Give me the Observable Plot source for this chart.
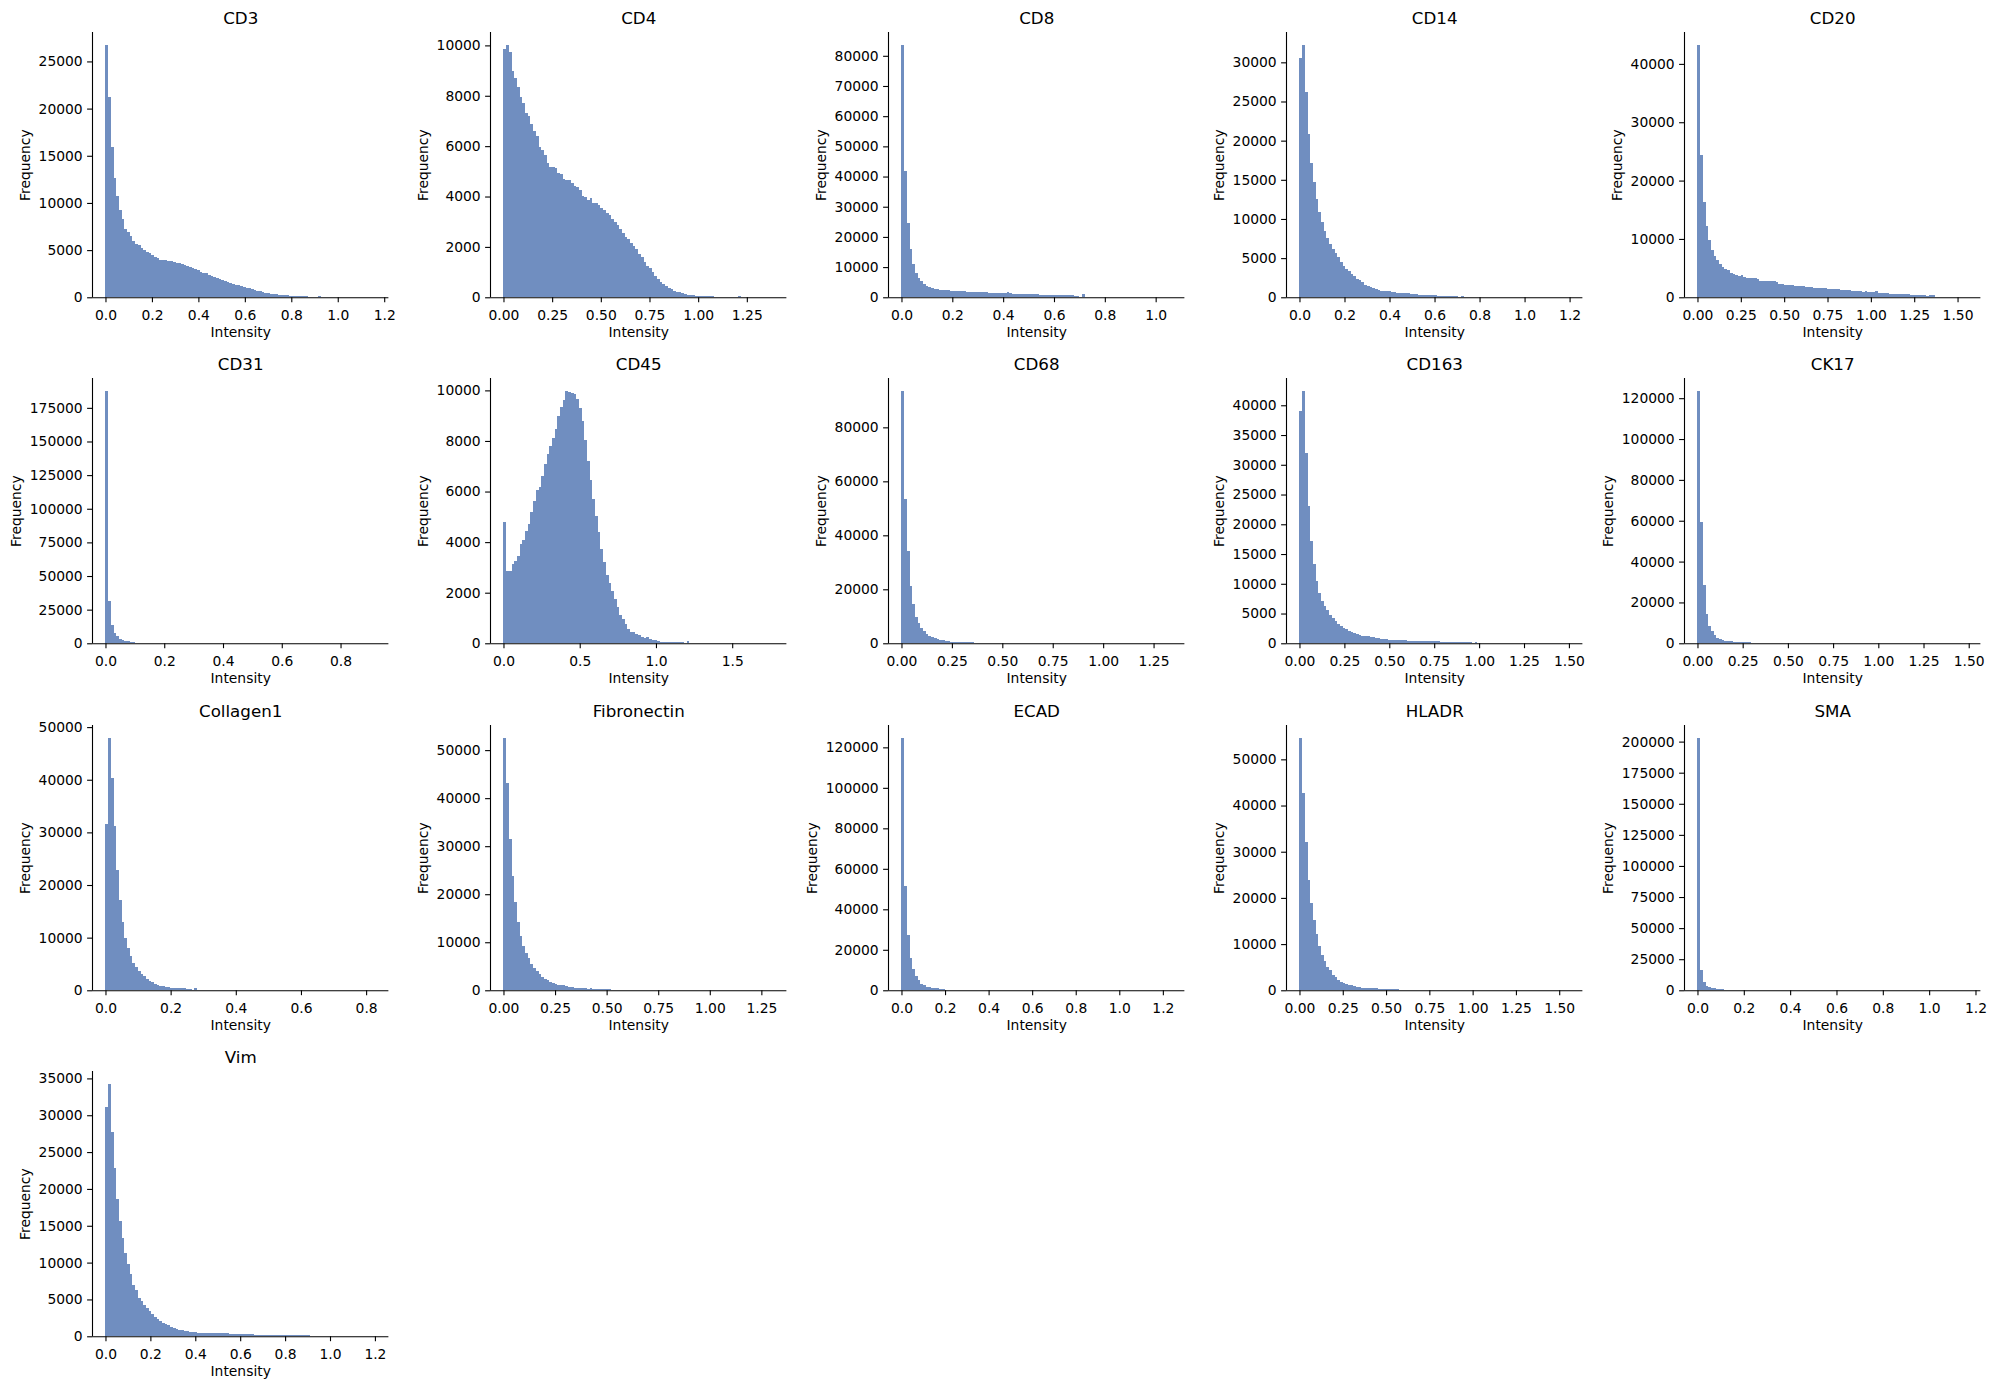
<!DOCTYPE html>
<html>
<head>
<meta charset="utf-8">
<script src="https://cdn.jsdelivr.net/npm/d3@7"></script>
<script src="https://cdn.jsdelivr.net/npm/@observablehq/plot@0.6"></script>
<style>
  html, body { margin: 0; padding: 0; background: #ffffff; }
  #grid { position: relative; width: 1995px; height: 1389px; font-family: "DejaVu Sans", sans-serif; }
  .panel { position: absolute; }
  .panel svg { overflow: visible; }
</style>
</head>
<body>
<div id="grid"></div>
<script>
// Marker names, in panel order (5 per row)
const markers = ["CD3", "CD4", "CD8", "CD14", "CD20", "CD31", "CD45", "CD68", "CD163", "CK17",
                 "Collagen1", "Fibronectin", "ECAD", "HLADR", "SMA", "Vim"];

// Upper edge of the intensity range per marker (bins run from 0 to this value)
const upperEdges = [1.16, 1.384, 1.06, 1.197, 1.554, 0.917, 1.767, 1.336, 1.5, 1.49,
                    0.827, 1.306, 1.237, 1.556, 1.163, 1.2];

// Cell counts per intensity bin (100 equal-width bins per marker)
const cd3Counts = [
  26780,21200,15900,12600,10700,9300,8300,7250,6900,6450,
  5950,5650,5500,5200,5000,4800,4650,4450,4300,4200,
  4000,3950,3900,3850,3800,3700,3650,3600,3500,3400,
  3300,3200,3100,3000,2850,2650,2600,2550,2400,2300,
  2200,2050,1950,1800,1700,1650,1550,1450,1350,1300,
  1200,1100,1000,950,850,780,700,620,560,500,
  440,400,350,310,280,250,220,200,170,150,
  140,120,110,100,90,80,70,60,60,180,
  40,30,25,20,15,10,10,8,6,5,
  5,4,3,3,2,2,2,1,1,1];
const cd4Counts = [
  9850,10030,9750,9000,8700,8360,7970,7700,7330,7200,
  6880,6620,6400,5980,5830,5630,5340,5190,5190,5140,
  4950,4900,4680,4640,4640,4550,4430,4370,4270,4040,
  3990,3870,3950,3730,3730,3660,3550,3450,3350,3250,
  3100,3000,2850,2700,2550,2400,2300,2150,2050,1900,
  1700,1600,1400,1250,1150,1000,850,720,620,520,
  450,380,320,260,220,190,160,130,110,95,
  80,65,55,70,45,40,36,32,28,25,
  22,19,16,14,12,4,3,70,2,1,
  1,1,0,0,0,0,0,0,0,1];
const cd8Counts = [
  83700,42000,24600,16000,11100,8100,6500,5400,4450,3900,
  3500,3200,2900,2650,2500,2400,2350,2250,2200,2100,
  2050,2000,2000,1950,1900,1850,1800,1800,1750,1700,
  1650,1600,1550,1550,1500,1500,1450,1450,1400,1800,
  1300,1250,1250,1200,1200,1150,1150,1100,1000,950,
  950,900,900,850,850,800,800,750,700,700,
  650,650,600,600,550,500,120,1000,150,120,
  100,80,60,50,40,30,25,20,15,12,
  10,8,6,5,4,3,3,2,2,1,
  1,1,1,1,1,0,0,0,0,1];
const cd14Counts = [
  30560,32260,26260,20870,17170,14660,12500,10840,9560,8410,
  7600,6800,6200,5600,5100,4550,4040,3650,3300,3000,
  2760,2380,2170,1910,1600,1490,1360,1200,1060,930,
  850,800,780,760,680,620,600,580,560,500,
  500,480,460,360,350,340,330,320,310,300,
  290,210,200,200,190,180,180,170,160,20,
  150,20,15,12,10,8,6,5,4,3,
  3,2,2,2,1,1,1,1,1,1,
  1,1,0,0,0,0,0,0,0,0,
  0,0,0,0,0,0,0,0,0,1];
const cd20Counts = [
  43300,24400,16400,12150,9760,8050,7020,6330,5700,5200,
  4900,4600,4200,4050,3770,3700,3770,3540,3300,3250,
  3250,3250,3200,2850,2800,2800,2780,2750,2750,2700,
  2250,2200,2150,2100,2100,2050,2000,2000,1980,1850,
  1800,1780,1750,1650,1620,1600,1600,1580,1450,1420,
  1400,1380,1350,1250,1220,1200,1180,1150,1050,1020,
  1000,980,1100,950,850,820,1000,800,680,660,
  650,640,620,600,520,510,500,490,480,380,
  370,360,350,340,330,200,400,400,60,50,
  40,35,30,25,20,15,10,8,5,3];
const cd31Counts = [
  187800,31200,13400,7500,5300,3100,2200,1500,1400,1300,
  1200,200,150,120,100,80,70,60,50,40,
  30,25,20,18,15,12,10,9,8,7,
  6,6,5,5,4,4,4,3,3,3,
  3,3,2,2,2,2,2,2,1,1,
  1,1,1,1,1,1,1,1,1,1,
  1,1,1,1,1,1,1,0,0,0,
  0,0,0,0,0,0,0,0,0,0,
  0,0,0,0,0,0,0,0,0,0,
  0,0,0,0,0,0,0,0,0,1];
const cd45Counts = [
  4780,2850,2850,3130,3250,3440,3920,4070,4430,4730,
  5190,5610,6080,6180,6600,7070,7490,7820,8120,8490,
  9000,9330,9630,9990,9920,9910,9840,9660,9300,8780,
  8040,7190,6440,5690,5030,4390,3720,3230,2710,2390,
  2050,1770,1430,1120,950,760,550,460,430,380,
  330,260,210,240,170,130,120,100,70,70,
  60,60,50,50,50,40,40,10,80,10,
  8,6,5,4,3,3,2,2,2,1,
  1,1,1,1,1,0,0,0,0,0,
  0,0,0,0,0,0,0,0,0,1];
const cd68Counts = [
  93600,53500,34200,21400,14400,9900,7400,5700,4600,3400,
  2800,2300,2000,1600,1300,1100,800,700,600,550,
  500,480,450,420,400,380,350,150,120,100,
  90,80,70,60,50,45,40,35,30,25,
  20,18,16,14,12,10,9,8,7,6,
  5,5,4,4,3,3,3,2,2,2,
  2,2,1,1,1,1,1,1,1,1,
  1,1,1,0,0,0,0,0,0,0,
  0,0,0,0,0,0,0,0,0,0,
  0,0,0,0,0,0,0,0,0,1];
const cd163Counts = [
  39050,42460,32000,23000,17150,13300,10500,8500,7100,6260,
  5600,4750,4250,3740,3240,2900,2570,2350,2070,1900,
  1680,1560,1450,1280,1230,1170,1060,1000,900,850,
  800,700,650,600,550,520,500,500,480,470,
  450,450,440,430,420,350,340,330,330,320,
  310,300,250,250,240,240,230,230,220,220,
  210,210,200,200,50,200,20,15,10,8,
  6,5,4,3,3,2,2,2,1,1,
  1,1,1,1,0,0,0,0,0,0,
  0,0,0,0,0,0,0,0,0,1];
const ck17Counts = [
  123700,59400,28300,14500,8600,5800,3900,2800,2200,1700,
  1300,1000,900,800,700,600,550,500,450,400,
  60,50,40,35,30,25,20,18,15,12,
  10,9,8,7,6,5,5,4,4,3,
  3,3,2,2,2,2,1,1,1,1,
  1,1,1,1,1,1,1,1,0,0,
  0,0,0,0,0,0,0,0,0,0,
  0,0,0,0,0,0,0,0,0,0,
  0,0,0,0,0,0,0,0,0,0,
  0,0,0,0,0,0,0,0,0,1];
const collagen1Counts = [
  31600,48000,40400,31200,22800,17200,13000,10000,8100,6600,
  5200,4500,3700,3000,2650,2100,1750,1500,1250,1000,
  850,750,650,550,500,450,420,400,380,350,
  300,300,30,450,20,15,12,10,8,6,
  5,4,4,3,3,2,2,2,1,1,
  1,1,1,1,1,1,1,1,0,0,
  0,0,0,0,0,0,0,0,0,0,
  0,0,0,0,0,0,0,0,0,0,
  0,0,0,0,0,0,0,0,0,0,
  0,0,0,0,0,0,0,0,0,1];
const fibronectinCounts = [
  52600,43100,31600,23700,18300,14150,11200,9150,7700,6660,
  5550,4650,4100,3400,2700,2450,2100,1800,1530,1250,
  1200,1200,1100,800,750,700,500,500,500,480,
  450,300,500,300,300,300,280,280,270,260,
  100,50,40,30,25,20,15,12,10,8,
  6,5,4,3,3,2,2,2,1,1,
  1,1,1,1,1,1,0,0,0,0,
  0,0,0,0,0,0,0,0,0,0,
  0,0,0,0,0,0,0,0,0,0,
  0,0,0,0,0,0,0,0,0,1];
const ecadCounts = [
  124800,51400,27300,15900,10500,6900,4900,3300,2500,1800,
  1500,1200,1000,900,800,700,60,50,40,30,
  25,20,18,15,12,10,8,7,6,5,
  4,4,3,3,3,2,2,2,2,1,
  1,1,1,1,1,1,1,0,0,0,
  0,0,0,0,0,0,0,0,0,0,
  0,0,0,0,0,0,0,0,0,0,
  0,0,0,0,0,0,0,0,0,0,
  0,0,0,0,0,0,0,0,0,0,
  0,0,0,0,0,0,0,0,0,1];
const hladrCounts = [
  54700,42650,32000,23800,18900,15200,12100,9500,7700,6270,
  5100,4300,3400,2800,2300,1800,1500,1300,1200,1100,
  860,750,700,550,500,500,400,400,400,300,
  280,270,260,250,240,230,220,30,20,15,
  10,8,6,5,4,3,3,2,2,1,
  1,1,1,1,1,1,0,0,0,0,
  0,0,0,0,0,0,0,0,0,0,
  0,0,0,0,0,0,0,0,0,0,
  0,0,0,0,0,0,0,0,0,0,
  0,0,0,0,0,0,0,0,0,1];
const smaCounts = [
  203200,16000,6700,3600,2500,1800,1500,1200,1000,900,
  150,100,80,60,50,40,35,30,25,20,
  18,15,12,10,9,8,7,6,5,5,
  4,4,3,3,3,2,2,2,2,1,
  1,1,1,1,1,1,0,0,0,0,
  0,0,0,0,0,0,0,0,0,0,
  0,0,0,0,0,0,0,0,0,0,
  0,0,0,0,0,0,0,0,0,0,
  0,0,0,0,0,0,0,0,0,0,
  0,0,0,0,0,0,0,0,0,1];
const vimCounts = [
  31070,34290,27680,22800,18570,15600,13330,11300,9760,8450,
  7020,6250,5240,4760,4290,3870,3400,3040,2680,2380,
  2140,1850,1670,1490,1310,1130,1010,900,800,750,
  650,600,600,550,500,500,500,500,500,400,
  400,400,400,400,400,400,300,300,300,300,
  300,300,300,300,300,200,200,200,200,200,
  200,200,200,120,120,120,120,120,120,120,
  120,120,120,120,120,120,20,15,10,8,
  6,5,4,3,3,2,2,2,1,1,
  1,1,1,0,0,0,0,0,0,1];

const counts = [cd3Counts, cd4Counts, cd8Counts, cd14Counts, cd20Counts, cd31Counts, cd45Counts,
                cd68Counts, cd163Counts, ck17Counts, collagen1Counts, fibronectinCounts, ecadCounts,
                hladrCounts, smaCounts, vimCounts];

// Intensity tick labels per panel
const xTickLabels = [
  ["0.0","0.2","0.4","0.6","0.8","1.0","1.2"],
  ["0.00","0.25","0.50","0.75","1.00","1.25"],
  ["0.0","0.2","0.4","0.6","0.8","1.0"],
  ["0.0","0.2","0.4","0.6","0.8","1.0","1.2"],
  ["0.00","0.25","0.50","0.75","1.00","1.25","1.50"],
  ["0.0","0.2","0.4","0.6","0.8"],
  ["0.0","0.5","1.0","1.5"],
  ["0.00","0.25","0.50","0.75","1.00","1.25"],
  ["0.00","0.25","0.50","0.75","1.00","1.25","1.50"],
  ["0.00","0.25","0.50","0.75","1.00","1.25","1.50"],
  ["0.0","0.2","0.4","0.6","0.8"],
  ["0.00","0.25","0.50","0.75","1.00","1.25"],
  ["0.0","0.2","0.4","0.6","0.8","1.0","1.2"],
  ["0.00","0.25","0.50","0.75","1.00","1.25","1.50"],
  ["0.0","0.2","0.4","0.6","0.8","1.0","1.2"],
  ["0.0","0.2","0.4","0.6","0.8","1.0","1.2"]
];

// Frequency ticks per panel
const yTicks = [
  [0,5000,10000,15000,20000,25000],
  [0,2000,4000,6000,8000,10000],
  [0,10000,20000,30000,40000,50000,60000,70000,80000],
  [0,5000,10000,15000,20000,25000,30000],
  [0,10000,20000,30000,40000],
  [0,25000,50000,75000,100000,125000,150000,175000],
  [0,2000,4000,6000,8000,10000],
  [0,20000,40000,60000,80000],
  [0,5000,10000,15000,20000,25000,30000,35000,40000],
  [0,20000,40000,60000,80000,100000,120000],
  [0,10000,20000,30000,40000,50000],
  [0,10000,20000,30000,40000,50000],
  [0,20000,40000,60000,80000,100000,120000],
  [0,10000,20000,30000,40000,50000],
  [0,25000,50000,75000,100000,125000,150000,175000,200000],
  [0,5000,10000,15000,20000,25000,30000,35000]
];

// Panel geometry (pixels)
const PLOT_W = 296.4, PLOT_H = 265.3;
const ML = 92, MT = 32, MR = 10, MB = 50;
const COL0 = 92.3, COL_STEP = 398, ROW0 = 31.7, ROW_STEP = 346.4, NCOL = 5;
const BAR = "#708EC0";
const FONT = 13.9, TITLE_FONT = 16.7, DIGIT_W = 8.84;
const TICK = 4.9;

const grid = document.getElementById("grid");

markers.forEach((name, k) => {
  const vals = counts[k];
  const hi = upperEdges[k];
  const n = vals.length;
  const w = hi / n;
  const bins = vals.map((c, i) => ({x1: i * w, x2: (i + 1) * w, count: c}));
  const xDomain = [-0.05 * hi, 1.05 * hi];
  const yTop = 1.05 * d3.max(vals);
  const labels = xTickLabels[k];
  const labelOf = new Map(labels.map(s => [+s, s]));
  const ticksX = labels.map(Number);
  const ticksY = yTicks[k];
  const widest = d3.max(ticksY, t => String(t).length) * DIGIT_W;
  const yLabelOffset = TICK + 4.9 + widest + 5.6 + 3.3;

  const svg = Plot.plot({
    width: ML + PLOT_W + MR,
    height: MT + PLOT_H + MB,
    marginLeft: ML, marginRight: MR, marginTop: MT, marginBottom: MB,
    style: {fontFamily: "DejaVu Sans", fontSize: FONT + "px", color: "#000", background: "transparent"},
    x: {domain: xDomain},
    y: {domain: [0, yTop]},
    marks: [
      Plot.rectY(bins, {x1: "x1", x2: "x2", y: "count", fill: BAR, shapeRendering: "crispEdges"}),
      Plot.ruleY([0], {stroke: "#000", strokeWidth: 1.1}),
      Plot.ruleX([xDomain[0]], {stroke: "#000", strokeWidth: 1.1}),
      Plot.axisX({ticks: ticksX, tickFormat: d => labelOf.get(d) ?? String(d), tickSize: TICK,
                  tickPadding: 7.6, strokeWidth: 1.1, label: null, fontSize: FONT}),
      Plot.axisY({ticks: ticksY, tickFormat: d => String(d), tickSize: TICK,
                  tickPadding: 4.9, strokeWidth: 1.1, label: null, fontSize: FONT}),
      Plot.text([name], {text: d => d, frameAnchor: "top", dy: -8.3, lineAnchor: "bottom",
                         textAnchor: "middle", fontSize: TITLE_FONT, fill: "#000"}),
      Plot.text(["Intensity"], {text: d => d, frameAnchor: "bottom", dy: 35, lineAnchor: "middle",
                                textAnchor: "middle", fontSize: FONT, fill: "#000"}),
      Plot.text(["Frequency"], {text: d => d, frameAnchor: "left", dx: -yLabelOffset, rotate: -90,
                                lineAnchor: "bottom", textAnchor: "middle", fontSize: FONT, fill: "#000"})
    ]
  });

  const col = k % NCOL, row = Math.floor(k / NCOL);
  const div = document.createElement("div");
  div.className = "panel";
  div.style.left = (COL0 + col * COL_STEP - ML) + "px";
  div.style.top = (ROW0 + row * ROW_STEP - MT) + "px";
  div.appendChild(svg);
  grid.appendChild(div);
});
</script>
</body>
</html>
